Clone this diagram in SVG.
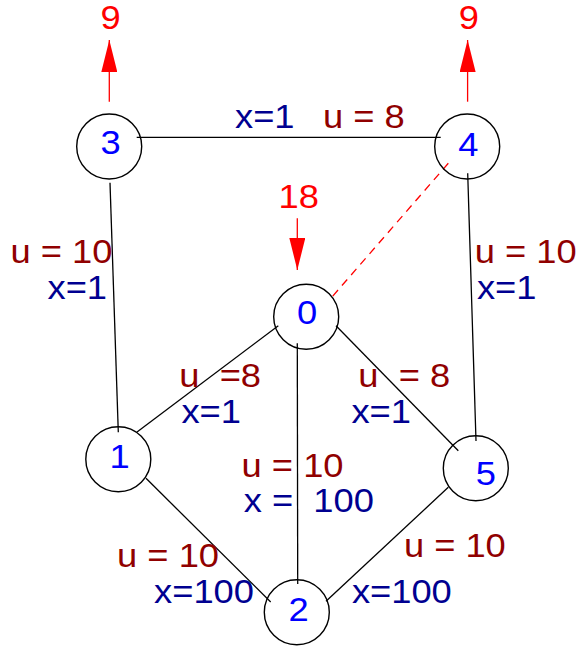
<svg xmlns="http://www.w3.org/2000/svg" width="576" height="648" viewBox="0 0 576 648">
<defs>
<style>
text{font-family:"Liberation Sans",Arial,Helvetica,sans-serif;font-size:33px}
.node circle{fill:none;stroke:#000;stroke-width:1.4}
.node text{fill:#0000ff;text-anchor:middle}
.edge{stroke:#000;stroke-width:1.3;fill:none}
.flow{stroke:#ff0000;stroke-width:1.3;fill:none}
.dash{stroke:#ff0000;stroke-width:1.3;fill:none;stroke-dasharray:8 6}
.u{fill:#900000}
.x{fill:#000090}
.r{fill:#ff0000;text-anchor:middle}
</style>
<marker id="ah" markerUnits="userSpaceOnUse" markerWidth="32" markerHeight="16" refX="32" refY="8" orient="auto" viewBox="0 0 32 16">
<path d="M0,0 L32,8 L0,16 Z" fill="#ff0000"/>
</marker>
</defs>
<g id="connectors">
<line class="edge" x1="136.7" y1="137.3" x2="440.7" y2="137.3"/>
<line class="edge" x1="110" y1="182.7" x2="118.3" y2="432.3"/>
<line class="edge" x1="467.7" y1="173.3" x2="476" y2="441"/>
<line class="edge" x1="278.3" y1="325.7" x2="136.7" y2="432.3"/>
<line class="edge" x1="297.3" y1="343.3" x2="297.7" y2="584"/>
<line class="edge" x1="336" y1="325.7" x2="458.3" y2="450.7"/>
<line class="edge" x1="146" y1="478.3" x2="270.7" y2="602"/>
<line class="edge" x1="448.3" y1="487.3" x2="326" y2="601.3"/>
<line class="dash" x1="448.3" y1="163.3" x2="331.7" y2="297.3"/>
<line class="flow" x1="109.3" y1="101.7" x2="109.3" y2="40" marker-end="url(#ah)"/>
<line class="flow" x1="467.6" y1="101.7" x2="467.6" y2="40" marker-end="url(#ah)"/>
<line class="flow" x1="297.3" y1="218.3" x2="297.3" y2="270" marker-end="url(#ah)"/>
</g>
<g id="labels">
<text class="r" transform="translate(110.5 29.3) scale(1.1 1)">9</text>
<text class="r" transform="translate(468.8 29.3) scale(1.1 1)">9</text>
<text class="r" transform="translate(298.8 208.3) scale(1.1 1)">18</text>
<text class="x" transform="translate(235 128.3) scale(1.1 1)">x=1</text>
<text class="u" transform="translate(323 128.3) scale(1.1 1)">u = 8</text>
<text class="u" transform="translate(10.5 262.7) scale(1.1 1)">u = 10</text>
<text class="x" transform="translate(47.5 299) scale(1.1 1)">x=1</text>
<text class="u" transform="translate(474.8 262.7) scale(1.1 1)">u = 10</text>
<text class="x" transform="translate(476.9 299) scale(1.1 1)">x=1</text>
<text class="u" transform="translate(179.3 387.3) scale(1.1 1)">u <tspan dx="9.2">=8</tspan></text>
<text class="x" transform="translate(181.4 423.3) scale(1.1 1)">x=1</text>
<text class="u" transform="translate(358.3 387.3) scale(1.1 1)">u <tspan dx="9.2">= 8</tspan></text>
<text class="x" transform="translate(351.4 423.3) scale(1.1 1)">x=1</text>
<text class="u" transform="translate(241.6 477.3) scale(1.1 1)">u = 10</text>
<text class="x" transform="translate(243.7 512.3) scale(1.1 1)">x = <tspan dx="9.2">100</tspan></text>
<text class="u" transform="translate(117.1 566.7) scale(1.1 1)">u = 10</text>
<text class="x" transform="translate(154.1 602.7) scale(1.1 1)">x=100</text>
<text class="u" transform="translate(403.9 557.3) scale(1.1 1)">u = 10</text>
<text class="x" transform="translate(351.9 602.7) scale(1.1 1)">x=100</text>
</g>
<g id="node3" class="node"><circle cx="109.2" cy="146.5" r="32.5"/><text transform="translate(110.7 154) scale(1.1 1)">3</text></g>
<g id="node4" class="node"><circle cx="467.2" cy="146.5" r="32.5"/><text transform="translate(468.3 155.5) scale(1.1 1)">4</text></g>
<g id="node0" class="node"><circle cx="306.2" cy="316.7" r="32.5"/><text transform="translate(307.2 324.3) scale(1.1 1)">0</text></g>
<g id="node1" class="node"><circle cx="118.3" cy="459.2" r="32.5"/><text transform="translate(119.6 468.3) scale(1.1 1)">1</text></g>
<g id="node5" class="node"><circle cx="475.8" cy="468.2" r="32.5"/><text transform="translate(485.8 485) scale(1.1 1)">5</text></g>
<g id="node2" class="node"><circle cx="296.8" cy="612.2" r="32.5"/><text transform="translate(298.5 620.7) scale(1.1 1)">2</text></g>
</svg>
